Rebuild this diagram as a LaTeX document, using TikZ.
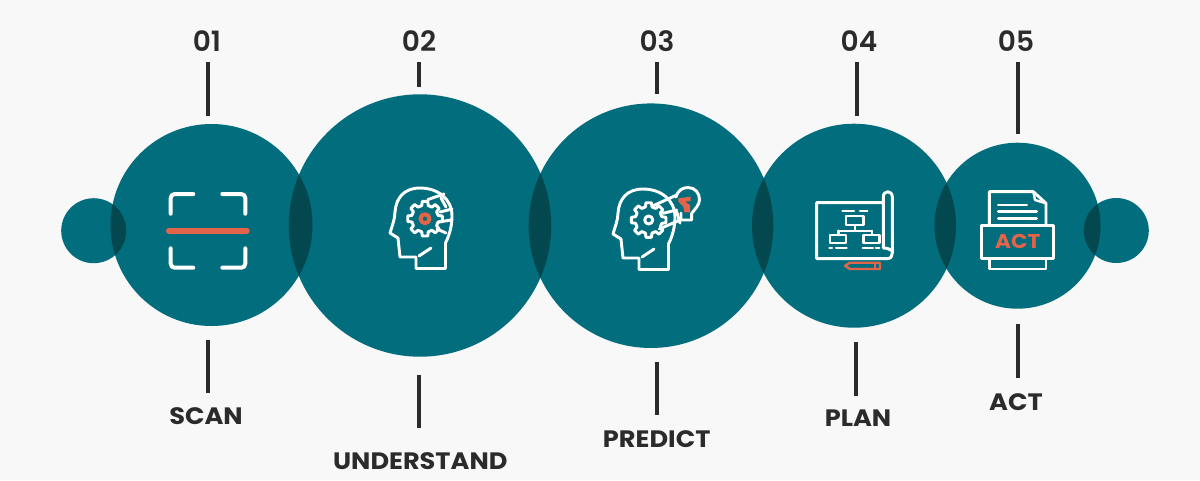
\documentclass[tikz,border=0pt]{standalone}
\usepackage{fontspec}
\setmainfont{Poppins}
\newfontfamily\wordfont{Poppins}[FakeStretch=1.08]
\newfontfamily\numfont{Poppins SemiBold}
\usetikzlibrary{calc}

\definecolor{bgpage}{HTML}{F8F8F8}
\definecolor{tealdisc}{HTML}{016D7D}
\definecolor{tealdark}{HTML}{03474F}
\definecolor{redmark}{HTML}{E4644A}
\definecolor{inktext}{HTML}{2B2B2B}

% gear: centre x, centre y, inner radius, outer radius
\newcommand{\geartoothed}[4]{%
  \begin{scope}[shift={(#1,#2)}]
    \draw[iconline] (-14:#3) \foreach \a in {0,45,...,315}{
      -- (\a-14:#3) -- (\a-9:#4) -- (\a+9:#4) -- (\a+14:#3) -- (\a+31:#3)} -- cycle;
  \end{scope}}

% head outline, drawn for the first icon and shifted for the second
\newcommand{\headoutline}{%
  \draw[iconline] (445.5,268.5) -- (445.5,243) .. controls (451,232) and (452,222) .. (452,216)
    .. controls (452,199) and (438,188) .. (420,188)
    .. controls (404,188) and (396,198) .. (395,212)
    .. controls (395,219) and (392,226) .. (390,233) -- (398,238) -- (400,257)
    -- (416,257) -- (416,268.5) -- cycle;
  \draw[iconline] (419,256) -- (431,248);}

\begin{document}
\begin{tikzpicture}[
  x=0.75pt, y=-0.75pt,
  disc/.style={circle, fill=tealdisc, inner sep=0pt},
  num/.style={font=\numfont\fontsize{21}{24}\selectfont, text=inktext, inner sep=0pt},
  word/.style={font=\wordfont\bfseries\fontsize{17.8}{20}\selectfont, text=inktext, inner sep=0pt},
  tick/.style={draw=inktext, line width=3pt},
  iconline/.style={draw=white, line width=2.2pt, line join=round, line cap=round},
  redline/.style={draw=redmark, line width=2.2pt, line join=round, line cap=round}
]

% Page
\fill[bgpage] (0,0) rectangle (1200,480);
\useasboundingbox (0,0) rectangle (1200,480);

% Nodes
\node[disc, minimum size=48.75pt] (left) at (93.7,230.7) {};
\node[disc, minimum size=151.5pt] (scan) at (211.5,225) {};
\node[disc, minimum size=196.8pt] (understand) at (420,225.5) {};
\node[disc, minimum size=183.4pt] (predict) at (651,225.7) {};
\node[disc, minimum size=153pt] (plan) at (854,225.7) {};
\node[disc, minimum size=124.5pt] (act) at (1017.5,225.7) {};
\node[disc, minimum size=48.75pt] (right) at (1116.3,230.5) {};

% Overlaps
\foreach \ax/\ay/\ar/\bx/\by/\br in {93.7/230.7/32.5/211.5/225/101, 211.5/225/101/420/225.5/131.2,
    420/225.5/131.2/651/225.7/122.3, 651/225.7/122.3/854/225.7/102, 854/225.7/102/1017.5/225.7/83,
    1017.5/225.7/83/1116.3/230.5/32.5}{
  \begin{scope}
    \clip (\ax,\ay) circle[radius=\ar];
    \fill[tealdark] (\bx,\by) circle[radius=\br];
  \end{scope}
}

% Labels
\node[num] (num1) at (207,41) {01};
\node[num] (num2) at (419,41) {02};
\node[num] (num3) at (657,41) {03};
\node[num] (num4) at (859,41) {04};
\node[num] (num5) at (1016,41) {05};
\node[word] (word1) at (206,416) {SCAN};
\node[word] (word2) at (420.3,461) {UNDERSTAND};
\node[word] (word3) at (656.7,439) {PREDICT};
\node[word] (word4) at (858,418) {PLAN};
\node[word] (word5) at (1016,402) {ACT};

% Ticks
\coordinate (t1a) at (207.7,62);  \coordinate (t1b) at (207.7,116);
\coordinate (t2a) at (419,62);  \coordinate (t2b) at (419,87);
\coordinate (t3a) at (657,62);  \coordinate (t3b) at (657,94);
\coordinate (t4a) at (857.3,62);  \coordinate (t4b) at (857.3,116);
\coordinate (t5a) at (1017.7,62); \coordinate (t5b) at (1017.7,134.3);
\coordinate (b1a) at (207.7,340); \coordinate (b1b) at (207.7,393);
\coordinate (b2a) at (419,375); \coordinate (b2b) at (419,428);
\coordinate (b3a) at (657,361.7); \coordinate (b3b) at (657,415);
\coordinate (b4a) at (856.3,342); \coordinate (b4b) at (856.3,396);
\coordinate (b5a) at (1017.7,324.3); \coordinate (b5b) at (1017.7,378);
\foreach \n in {t1,t2,t3,t4,t5,b1,b2,b3,b4,b5}{
  \draw[tick] (\n a) -- (\n b);
}

% Scan icon
\draw[iconline, line width=3pt, rounded corners=3pt] (193.3,194) -- (170.7,194) -- (170.7,213.7);
\draw[iconline, line width=3pt, rounded corners=3pt] (222.3,194) -- (245.3,194) -- (245.3,213.7);
\draw[iconline, line width=3pt, rounded corners=3pt] (170.7,248.3) -- (170.7,267.7) -- (193.3,267.7);
\draw[iconline, line width=3pt, rounded corners=3pt] (245.3,248.3) -- (245.3,267.7) -- (222.3,267.7);
\draw[redline, line width=4.5pt] (169,230.7) -- (246.7,230.7);

% Understand icon
\headoutline
\geartoothed{425}{218.7}{13.5}{17.5}
\draw[redline, line width=3pt] (425,218.7) circle[radius=4.5];
\draw[iconline] (428,199.5) -- (444,194);
\draw[iconline] (441,198) -- (446,207);
\draw[iconline] (440,212) -- (452,209);
\draw[iconline] (439,222) -- (451,220);
\draw[iconline] (437,229) -- (446,233);

% Predict icon
\begin{scope}[shift={(223,1)}]
  \headoutline
\end{scope}
\geartoothed{648.7}{220}{13.5}{17.5}
\draw[iconline] (648.7,220) circle[radius=4];
\draw[iconline] (653.3,205.7) -- (676.7,195);
\draw[iconline] (659.3,229) -- (680,220);
\draw[iconline] (663,213.3) -- (676.7,210);
\draw[iconline] (676.7,211.7) -- (680,223);
\draw[iconline] (676,197) .. controls (678,190) and (683,187.5) .. (688,187.5)
  .. controls (695,187.5) and (699.5,193) .. (699.5,199.5)
  .. controls (699.5,205) and (695,209) .. (691.7,213.3) -- (691.7,220) -- (681,220) -- (681,213);
\fill[redmark] (678.3,198.3) -- (690.7,196.7) -- (690.7,201) -- (685,201.7) -- (690,205)
  -- (690,212.3) -- (684.3,212.3) -- (683.3,206.7) -- (678.3,201.7) -- cycle;

% Plan icon
\draw[iconline] (883.3,202.7) -- (816.7,202.7) -- (816.7,258.7) -- (887,258.7)
  .. controls (891,258.7) and (892.3,256) .. (892.3,253) -- (892.3,197)
  .. controls (892.3,190) and (883.3,190) .. (883.3,197) -- (883.3,248)
  .. controls (887,248) and (890,249) .. (892.3,251);
\draw[iconline, line width=1.6pt] (842.3,211.3) -- (854,211.3);
\draw[iconline, line width=1.6pt] (860,211.3) -- (867.3,211.3);
\draw[iconline, line width=1.8pt] (846,216) rectangle (863.3,225);
\draw[iconline, line width=1.8pt] (855,225) -- (855,230.7) (838.3,230.7) -- (871.7,230.7)
  (838.3,230.7) -- (838.3,235) (871.7,230.7) -- (871.7,235);
\draw[iconline, line width=1.8pt] (830,235) rectangle (846,242.7);
\draw[iconline, line width=1.8pt] (863.3,235) rectangle (879.3,242.7);
\draw[iconline, line width=1.6pt] (829.3,247.7) -- (832,247.7) (836,247.7) -- (846.7,247.7);
\draw[iconline, line width=1.6pt] (862.7,247.7) -- (873,247.7) (876,247.7) -- (879.3,247.7);
\draw[redline, line width=1.8pt] (845,265.8) -- (850,262.7) -- (880,262.7) -- (880,269) -- (850,269) -- cycle;
\draw[redline, line width=1.2pt] (875,262.7) -- (875,269);

% Act icon
\draw[iconline] (989.3,225) -- (989.3,191.7) -- (1033.3,191.7) -- (1046,203.3) -- (1046,225);
\draw[iconline, line width=1.8pt] (1033.3,191.7) -- (1035,200) -- (1046,203.3);
\draw[iconline] (998.3,205) -- (1026.7,205);
\draw[iconline] (998.3,211.7) -- (1036.7,211.7);
\draw[iconline] (998.3,218.3) -- (1036.7,218.3);
\draw[iconline] (981.7,225.7) rectangle (1053.3,258.3);
\draw[iconline] (989.3,258.3) -- (989.3,269) -- (1046,269) -- (1046,258.3);
\node[font=\wordfont\bfseries\fontsize{15}{18}\selectfont, text=redmark, inner sep=0pt] (acttext) at (1017.8,241.7) {ACT};

\end{tikzpicture}
\end{document}
